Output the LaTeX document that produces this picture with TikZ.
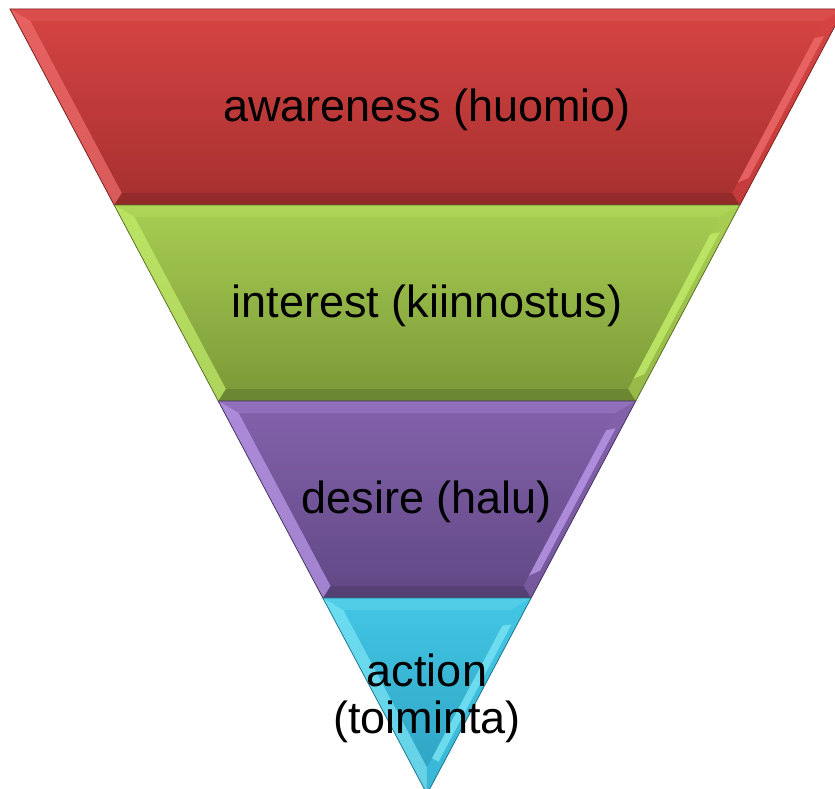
\documentclass[tikz,border=0pt]{standalone}
\usepackage{fontspec}
\setmainfont{Liberation Sans}
\usetikzlibrary{calc}
\definecolor{awtop}{RGB}{214,68,67}
\definecolor{awbot}{RGB}{165,48,47}
\definecolor{awlite}{RGB}{240,110,110}
\definecolor{intop}{RGB}{168,206,82}
\definecolor{inbot}{RGB}{122,152,56}
\definecolor{inlite}{RGB}{196,238,108}
\definecolor{detop}{RGB}{132,98,172}
\definecolor{debot}{RGB}{96,72,132}
\definecolor{delite}{RGB}{190,156,238}
\definecolor{actop}{RGB}{66,198,228}
\definecolor{acbot}{RGB}{46,160,192}
\definecolor{aclite}{RGB}{126,230,246}
% one bevelled slice of the funnel: #1 colour prefix, #2 top y, #3 bottom y
\newcommand{\funnelband}[3]{%
    \pgfmathsetmacro{\fbOT}{0.53121*(794-#2)}
    \pgfmathsetmacro{\fbOB}{0.53121*(794-#3)}
    \pgfmathsetmacro{\fbYT}{#2+12}
    \pgfmathsetmacro{\fbYB}{min(#3-12,767.6)}
    \pgfmathsetmacro{\fbIT}{0.53121*(794-\fbYT)-14}
    \pgfmathsetmacro{\fbIB}{max(0.53121*(794-\fbYB)-14,0)}
    \coordinate (#1-otl) at (427-\fbOT,#2);
    \coordinate (#1-otr) at (427+\fbOT,#2);
    \coordinate (#1-obl) at (427-\fbOB,#3);
    \coordinate (#1-obr) at (427+\fbOB,#3);
    \coordinate (#1-itl) at (427-\fbIT,\fbYT);
    \coordinate (#1-itr) at (427+\fbIT,\fbYT);
    \coordinate (#1-ibl) at (427-\fbIB,\fbYB);
    \coordinate (#1-ibr) at (427+\fbIB,\fbYB);
    \shade[top color=#1top, bottom color=#1bot]
        (#1-otl) -- (#1-otr) -- (#1-obr) -- (#1-obl) -- cycle;
    \fill[#1lite, opacity=0.25] (#1-otl) -- (#1-otr) -- (#1-itr) -- (#1-itl) -- cycle;
    \fill[#1lite, opacity=0.7] (#1-otl) -- (#1-itl) -- (#1-ibl) -- (#1-obl) -- cycle;
    \fill[#1top, opacity=0.6] (#1-itr) -- (#1-otr) -- (#1-obr) -- (#1-ibr) -- cycle;
    % highlight stripe on the right bevel
    \fill[#1lite, opacity=0.75]
        ($(#1-itr)!0.1!(#1-ibr)$) -- ($($(#1-itr)!0.6!(#1-otr)$)!0.12!($(#1-ibr)!0.6!(#1-obr)$)$)
        -- ($($(#1-itr)!0.6!(#1-otr)$)!0.88!($(#1-ibr)!0.6!(#1-obr)$)$) -- ($(#1-itr)!0.94!(#1-ibr)$) -- cycle;
    \fill[black, opacity=0.12] (#1-ibl) -- (#1-ibr) -- (#1-obr) -- (#1-obl) -- cycle;
    \draw[#1bot!75!black, line width=0.8pt]
        (#1-otl) -- (#1-otr) -- (#1-obr) -- (#1-obl) -- cycle;
}

\begin{document}
\begin{tikzpicture}[x=1pt, y=-1pt,
    bandlabel/.style={font=\fontsize{45}{47}\selectfont, align=center, text=black}]
    \useasboundingbox (0,0) rectangle (835,789);
    \clip (0,0) rectangle (835,789);

    \funnelband{aw}{9}{205}
    \funnelband{in}{205}{401}
    \funnelband{de}{401}{598}
    \funnelband{ac}{598}{794}

    \node[bandlabel] (awareness) at (427,110) {awareness (huomio)};
    \node[bandlabel] (interest) at (427,306) {interest (kiinnostus)};
    \node[bandlabel] (desire) at (427,502) {desire (halu)};
    \node[bandlabel] (action) at (427,698) {action\\(toiminta)};
\end{tikzpicture}
\end{document}
